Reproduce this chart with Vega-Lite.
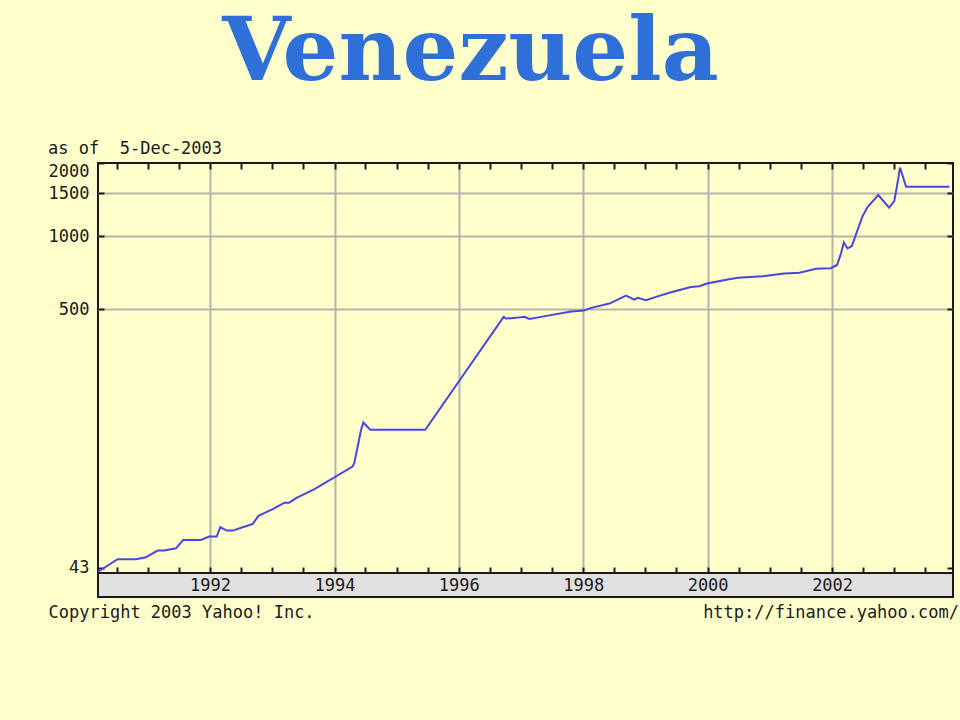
{
  "$schema": "https://vega.github.io/schema/vega-lite/v6.json",
  "background": "#ffffcc",
  "padding": {"left": 47, "top": 10, "right": 10, "bottom": 110},
  "title": {"text": "Venezuela", "font": "DejaVu Serif", "fontSize": 88, "fontWeight": "bold", "color": "#2f6fd8", "anchor": "middle", "dx": -33, "offset": 41},
  "spacing": 0,
  "bounds": "flush",
  "datasets": {
    "fx": [
      {"date": "1990-03-14", "rate": 41.5},
      {"date": "1990-07-07", "rate": 46.7},
      {"date": "1990-10-23", "rate": 46.7},
      {"date": "1990-12-20", "rate": 47.6},
      {"date": "1991-02-27", "rate": 50.7},
      {"date": "1991-04-07", "rate": 50.7},
      {"date": "1991-06-15", "rate": 51.8},
      {"date": "1991-07-27", "rate": 56.1},
      {"date": "1991-11-08", "rate": 56.1},
      {"date": "1991-12-27", "rate": 57.9},
      {"date": "1992-02-09", "rate": 57.9},
      {"date": "1992-03-01", "rate": 63.3},
      {"date": "1992-04-08", "rate": 61.3},
      {"date": "1992-05-13", "rate": 61.3},
      {"date": "1992-07-11", "rate": 63.3},
      {"date": "1992-09-08", "rate": 65.3},
      {"date": "1992-10-11", "rate": 70.5},
      {"date": "1993-01-03", "rate": 75.1},
      {"date": "1993-03-13", "rate": 79.9},
      {"date": "1993-04-10", "rate": 79.9},
      {"date": "1993-05-20", "rate": 83.4},
      {"date": "1993-09-05", "rate": 90.8},
      {"date": "1994-04-17", "rate": 112.5},
      {"date": "1994-04-27", "rate": 116.2},
      {"date": "1994-06-06", "rate": 159.4},
      {"date": "1994-06-19", "rate": 170.9},
      {"date": "1994-07-30", "rate": 159.4},
      {"date": "1995-06-18", "rate": 159.4},
      {"date": "1996-09-20", "rate": 465.0},
      {"date": "1996-10-04", "rate": 457.6},
      {"date": "1996-12-01", "rate": 460.6},
      {"date": "1997-01-20", "rate": 465.0},
      {"date": "1997-02-19", "rate": 456.2},
      {"date": "1997-04-28", "rate": 465.0},
      {"date": "1997-10-21", "rate": 489.0},
      {"date": "1998-01-04", "rate": 493.6},
      {"date": "1998-02-16", "rate": 506.5},
      {"date": "1998-06-03", "rate": 527.6},
      {"date": "1998-09-09", "rate": 569.2},
      {"date": "1998-10-27", "rate": 548.0},
      {"date": "1998-11-16", "rate": 557.0},
      {"date": "1999-01-04", "rate": 544.4},
      {"date": "1999-03-04", "rate": 562.3},
      {"date": "1999-05-31", "rate": 587.4},
      {"date": "1999-09-25", "rate": 617.1},
      {"date": "1999-11-13", "rate": 621.8},
      {"date": "1999-12-28", "rate": 638.0},
      {"date": "2000-04-28", "rate": 662.6},
      {"date": "2000-06-26", "rate": 673.4},
      {"date": "2000-11-20", "rate": 683.7},
      {"date": "2001-03-27", "rate": 701.5},
      {"date": "2001-06-23", "rate": 706.2},
      {"date": "2001-09-29", "rate": 733.5},
      {"date": "2001-12-25", "rate": 737.7},
      {"date": "2002-01-30", "rate": 760.5},
      {"date": "2002-02-22", "rate": 848.3},
      {"date": "2002-03-11", "rate": 941.7},
      {"date": "2002-04-02", "rate": 889.5},
      {"date": "2002-04-27", "rate": 909.1},
      {"date": "2002-05-11", "rate": 968.9},
      {"date": "2002-06-04", "rate": 1082.7},
      {"date": "2002-06-29", "rate": 1208.8},
      {"date": "2002-07-28", "rate": 1316.7},
      {"date": "2002-09-29", "rate": 1475.3},
      {"date": "2002-12-02", "rate": 1309.4},
      {"date": "2003-01-01", "rate": 1393.8},
      {"date": "2003-01-17", "rate": 1607.1},
      {"date": "2003-02-04", "rate": 1914.2},
      {"date": "2003-02-20", "rate": 1767.0},
      {"date": "2003-03-11", "rate": 1598.0},
      {"date": "2003-11-21", "rate": 1598.0}
    ]
  },
  "vconcat": [
    {
      "width": 855,
      "height": 410,
      "data": {"name": "fx"},
      "title": {"text": "as of \u00a05-Dec-2003", "anchor": "start", "offset": 4},
      "layer": [
        {
          "mark": {"type": "line", "color": "#4646e6", "strokeWidth": 2},
          "encoding": {
            "x": {
              "field": "date", "type": "temporal",
              "scale": {"domain": [{"year": 1990, "month": 3, "date": 14}, {"year": 2003, "month": 12, "date": 12}]},
              "axis": {
                "orient": "bottom", "title": null, "labels": false, "domain": false,
                "values": [
                  {"year": 1990, "month": 7, "date": 1}, {"year": 1991, "month": 1, "date": 1}, {"year": 1991, "month": 7, "date": 1},
                  {"year": 1992, "month": 1, "date": 1}, {"year": 1992, "month": 7, "date": 1}, {"year": 1993, "month": 1, "date": 1},
                  {"year": 1993, "month": 7, "date": 1}, {"year": 1994, "month": 1, "date": 1}, {"year": 1994, "month": 7, "date": 1},
                  {"year": 1995, "month": 1, "date": 1}, {"year": 1995, "month": 7, "date": 1}, {"year": 1996, "month": 1, "date": 1},
                  {"year": 1996, "month": 7, "date": 1}, {"year": 1997, "month": 1, "date": 1}, {"year": 1997, "month": 7, "date": 1},
                  {"year": 1998, "month": 1, "date": 1}, {"year": 1998, "month": 7, "date": 1}, {"year": 1999, "month": 1, "date": 1},
                  {"year": 1999, "month": 7, "date": 1}, {"year": 2000, "month": 1, "date": 1}, {"year": 2000, "month": 7, "date": 1},
                  {"year": 2001, "month": 1, "date": 1}, {"year": 2001, "month": 7, "date": 1}, {"year": 2002, "month": 1, "date": 1},
                  {"year": 2002, "month": 7, "date": 1}, {"year": 2003, "month": 1, "date": 1}, {"year": 2003, "month": 7, "date": 1}
                ],
                "tickSize": -6, "tickWidth": 2, "tickColor": "#1a1a1a",
                "grid": true, "gridColor": "#b4b4a8", "gridWidth": 2,
                "gridOpacity": {"condition": {"test": "month(datum.value) == 0 && year(datum.value) % 2 == 0", "value": 1}, "value": 0}
              }
            },
            "y": {
              "field": "rate", "type": "quantitative",
              "scale": {"type": "log", "domain": [41, 2000], "nice": false},
              "axis": {
                "orient": "left", "title": null, "domain": false,
                "values": [43, 500, 1000, 1500, 2000], "format": "d",
                "tickSize": -6, "tickWidth": 2, "tickColor": "#1a1a1a",
                "labelPadding": 15, "labelFlush": 1,
                "grid": true, "gridColor": "#b4b4a8", "gridWidth": 2,
                "gridOpacity": {"condition": {"test": "datum.value == 43 || datum.value == 2000", "value": 0}, "value": 1}
              }
            }
          }
        },
        {
          "mark": {"type": "line", "opacity": 0},
          "encoding": {
            "x": {
              "field": "date", "type": "temporal",
              "axis": {
                "orient": "top", "title": null, "labels": false, "domain": false, "grid": false,
                "values": [
                  {"year": 1990, "month": 7, "date": 1}, {"year": 1991, "month": 1, "date": 1}, {"year": 1991, "month": 7, "date": 1},
                  {"year": 1992, "month": 1, "date": 1}, {"year": 1992, "month": 7, "date": 1}, {"year": 1993, "month": 1, "date": 1},
                  {"year": 1993, "month": 7, "date": 1}, {"year": 1994, "month": 1, "date": 1}, {"year": 1994, "month": 7, "date": 1},
                  {"year": 1995, "month": 1, "date": 1}, {"year": 1995, "month": 7, "date": 1}, {"year": 1996, "month": 1, "date": 1},
                  {"year": 1996, "month": 7, "date": 1}, {"year": 1997, "month": 1, "date": 1}, {"year": 1997, "month": 7, "date": 1},
                  {"year": 1998, "month": 1, "date": 1}, {"year": 1998, "month": 7, "date": 1}, {"year": 1999, "month": 1, "date": 1},
                  {"year": 1999, "month": 7, "date": 1}, {"year": 2000, "month": 1, "date": 1}, {"year": 2000, "month": 7, "date": 1},
                  {"year": 2001, "month": 1, "date": 1}, {"year": 2001, "month": 7, "date": 1}, {"year": 2002, "month": 1, "date": 1},
                  {"year": 2002, "month": 7, "date": 1}, {"year": 2003, "month": 1, "date": 1}, {"year": 2003, "month": 7, "date": 1}
                ],
                "tickSize": -6, "tickWidth": 2, "tickColor": "#1a1a1a"
              }
            },
            "y": {
              "field": "rate", "type": "quantitative",
              "axis": {
                "orient": "right", "title": null, "labels": false, "domain": false, "grid": false,
                "values": [43, 500, 1000, 1500, 2000],
                "tickSize": -6, "tickWidth": 2, "tickColor": "#1a1a1a"
              }
            }
          }
        }
      ],
      "resolve": {"axis": {"x": "independent", "y": "independent"}}
    },
    {
      "width": 855,
      "height": 24,
      "data": {"name": "fx"},
      "view": {"fill": "#e0e0e0", "stroke": "#1a1a1a", "strokeWidth": 2},
      "title": {"text": "http://finance.yahoo.com/", "orient": "bottom", "anchor": "end", "dx": 6, "offset": 0, "dy": -15},
      "mark": {"type": "line", "opacity": 0},
      "encoding": {
        "x": {
          "field": "date", "type": "temporal",
          "scale": {"domain": [{"year": 1990, "month": 3, "date": 14}, {"year": 2003, "month": 12, "date": 12}]},
          "axis": {
            "orient": "bottom", "domain": false, "ticks": false, "grid": false,
            "values": [
              {"year": 1992, "month": 1, "date": 1}, {"year": 1994, "month": 1, "date": 1}, {"year": 1996, "month": 1, "date": 1},
              {"year": 1998, "month": 1, "date": 1}, {"year": 2000, "month": 1, "date": 1}, {"year": 2002, "month": 1, "date": 1}
            ],
            "format": "%Y", "labelPadding": -12, "labelBaseline": "middle",
            "title": "Copyright 2003 Yahoo! Inc.", "titleX": -50, "titleY": 15,
            "titleAlign": "left", "titleAnchor": "start", "titleBaseline": "middle"
          }
        }
      }
    }
  ],
  "config": {
    "view": {"stroke": "#1a1a1a", "strokeWidth": 2, "fill": "#ffffcc"},
    "axis": {
      "labelFont": "DejaVu Sans Mono", "labelFontSize": 17, "labelColor": "#1a1a1a",
      "titleFont": "DejaVu Sans Mono", "titleFontSize": 17, "titleFontWeight": "normal", "titleColor": "#1a1a1a"
    },
    "title": {"font": "DejaVu Sans Mono", "fontSize": 17, "fontWeight": "normal", "color": "#1a1a1a"}
  }
}
